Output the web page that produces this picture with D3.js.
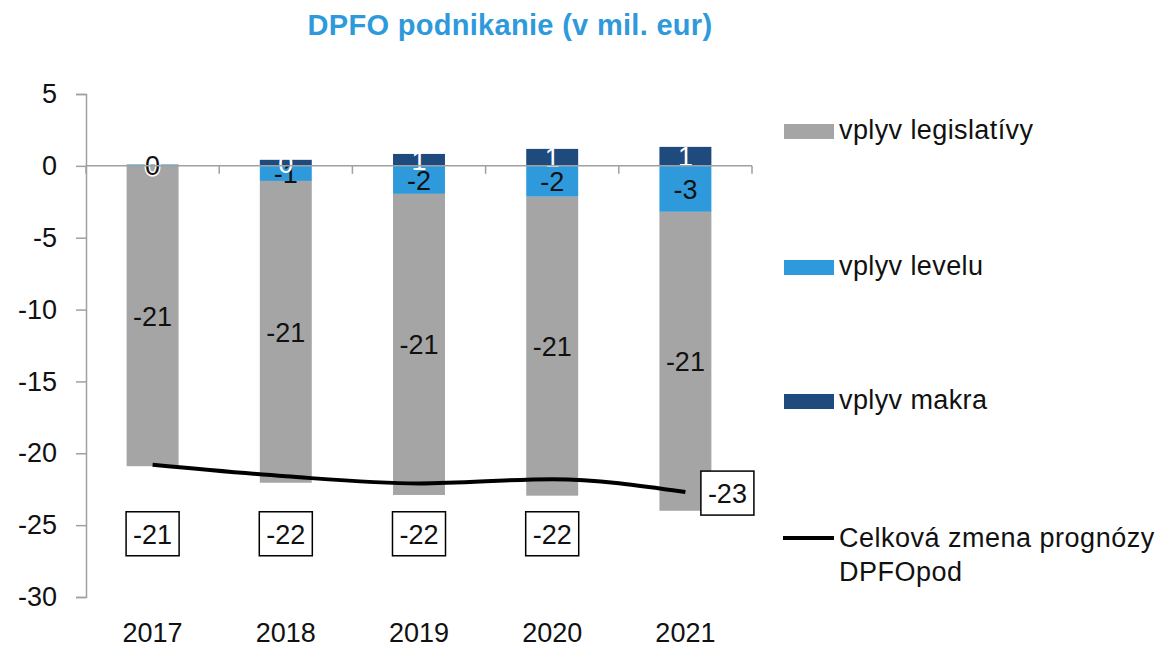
<!DOCTYPE html>
<html><head><meta charset="utf-8">
<script src="https://cdn.jsdelivr.net/npm/d3@7"></script>
<style>body{margin:0;background:#fff}svg{display:block}text{font-family:"Liberation Sans",Arial,sans-serif}</style>
</head><body><svg id="c" width="1166" height="647"></svg>
<script>
const years = ["2017","2018","2019","2020","2021"];
const legislativa = [-20.9, -21.0, -20.95, -20.8, -20.8];
const level = [0.1, -1.05, -1.95, -2.15, -3.2];
const makro = [0.0, 0.42, 0.83, 1.18, 1.32];
const total = [-20.8, -21.6, -22.1, -21.8, -22.7];
const seriesNames = ["vplyv legislatívy", "vplyv levelu", "vplyv makra"];
const lineName = ["Celková zmena prognózy", "DPFOpod"];
const yTicks = [5, 0, -5, -10, -15, -20, -25, -30];
const title = "DPFO podnikanie (v mil. eur)";

const colors = ["#A5A5A5", "#2E9ADC", "#1F4A7E"];
const svg = d3.select("#c");
const FS = 27;
const fmt = v => String(Math.round(v) === 0 ? 0 : Math.round(v));

const x = d3.scaleBand().domain(years).range([86, 752]).paddingInner(0.61).paddingOuter(0.305);
const y = d3.scaleLinear().domain([-30, 5]).range([597, 94]);

svg.append("text").attr("x", 510).attr("y", 35).attr("text-anchor","middle")
  .attr("font-size", 29).attr("font-weight","bold").attr("fill","#2E9ADC")
  .attr("letter-spacing", 0.3).text(title);

// y axis
const ya = svg.append("g").attr("transform","translate(86,0)")
  .call(d3.axisLeft(y).tickValues(yTicks).tickSize(10).tickPadding(19).tickFormat(d => String(d)));
ya.select(".domain").attr("stroke","#A0A0A0").attr("stroke-width",1.5);
ya.selectAll(".tick line").attr("stroke","#A0A0A0").attr("stroke-width",1.5);
ya.selectAll(".tick text").attr("font-size", FS).attr("fill","#111").attr("font-family","'Liberation Sans',Arial,sans-serif");

// stacked bars
const sets = [legislativa, level, makro];
years.forEach((yr, i) => {
  let pos = 0, neg = 0;
  const order = [1, 0, 2];
  const segs = [];
  order.forEach(s => {
    const v = sets[s][i];
    let y0, y1;
    if (v >= 0) { y0 = pos; y1 = pos + v; pos = y1; }
    else { y0 = neg; y1 = neg + v; neg = y1; }
    segs.push({s, v, y0, y1});
  });
  segs.forEach(d => {
    svg.append("rect").attr("x", x(yr)).attr("width", x.bandwidth())
      .attr("y", y(Math.max(d.y0, d.y1))).attr("height", Math.abs(y(d.y0) - y(d.y1)))
      .attr("fill", colors[d.s]);
  });
  segs.forEach(d => {
    if (d.s === 2 && Math.abs(d.v) < 0.05 ) return;
    svg.append("text").attr("x", x(yr) + x.bandwidth()/2)
      .attr("y", y((d.y0 + d.y1)/2) + 10).attr("text-anchor","middle")
      .attr("font-size", FS).attr("fill", d.s === 2 ? "#fff" : "#111")
      .attr("stroke", d.s === 1 && i === 0 ? "#fff" : "none").attr("stroke-width", 3)
      .attr("paint-order","stroke").text(fmt(d.v));
  });
});

// zero line and x ticks
svg.append("line").attr("x1", 86).attr("x2", 752).attr("y1", y(0)).attr("y2", y(0))
  .attr("stroke","#A0A0A0").attr("stroke-width",1.5);
const bounds = d3.range(years.length + 1).map(i => 86 + i * (752 - 86) / years.length);
bounds.forEach(b => svg.append("line").attr("x1", b).attr("x2", b).attr("y1", y(0)).attr("y2", y(0)+8)
  .attr("stroke","#A0A0A0").attr("stroke-width",1.5));

// x labels
years.forEach(yr => svg.append("text").attr("x", x(yr) + x.bandwidth()/2).attr("y", 642)
  .attr("text-anchor","middle").attr("font-size", FS).attr("fill","#111").text(yr));

// total line
const line = d3.line().x((d, i) => x(years[i]) + x.bandwidth()/2).y(d => y(d)).curve(d3.curveMonotoneX);
svg.append("path").attr("d", line(total)).attr("fill","none").attr("stroke","#000").attr("stroke-width",4);

// total labels
total.forEach((v, i) => {
  const cx = x(years[i]) + x.bandwidth()/2;
  let lx, ly;
  if (i === years.length - 1) { lx = cx + 42; ly = y(v) + 1; }
  else { lx = cx; ly = y(-25.6); }
  const g = svg.append("g");
  const t = g.append("text").attr("x", lx).attr("y", ly + 10).attr("text-anchor","middle")
    .attr("font-size", FS).attr("fill","#111").text(fmt(v));
  const bb = t.node().getBBox();
  g.insert("rect","text").attr("x", bb.x - 7).attr("y", ly - 22).attr("width", bb.width + 14).attr("height", 44)
    .attr("fill","#fff").attr("stroke","#000").attr("stroke-width",1.5);
});

// legend
const legY = [132, 268, 402];
seriesNames.forEach((n, i) => {
  svg.append("rect").attr("x", 784).attr("y", legY[i] - 8).attr("width", 50).attr("height", 15).attr("fill", colors[i]);
  svg.append("text").attr("x", 839).attr("y", legY[i] + 7).attr("font-size", FS).attr("letter-spacing", 0.4)
    .attr("fill","#111").text(n);
});
svg.append("line").attr("x1", 783).attr("x2", 834).attr("y1", 538).attr("y2", 538).attr("stroke","#000").attr("stroke-width",4);
lineName.forEach((n, i) => svg.append("text").attr("x", 839).attr("y", 547 + i*34).attr("font-size", FS)
  .attr("letter-spacing", 0.5).attr("fill","#111").text(n));
</script></body></html>
